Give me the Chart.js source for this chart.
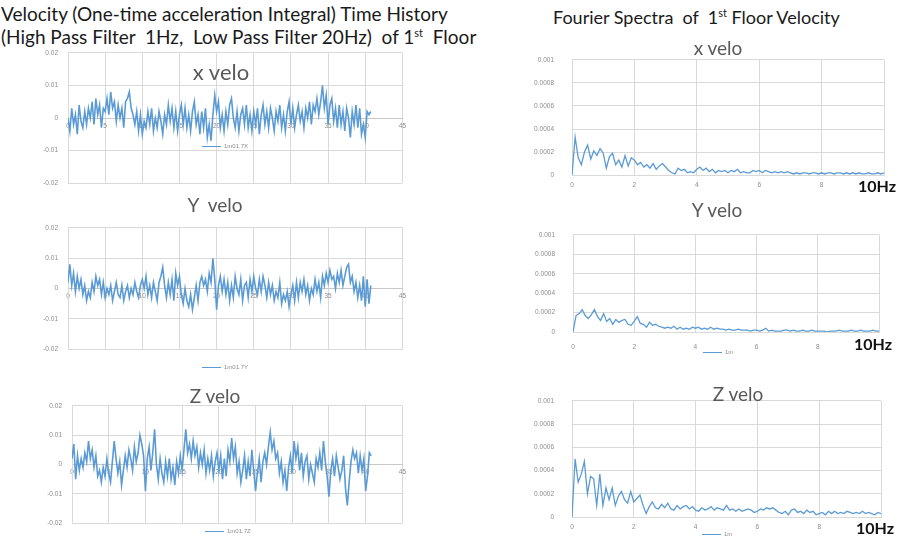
<!DOCTYPE html>
<html>
<head>
<meta charset="utf-8">
<script src="https://cdn.jsdelivr.net/npm/chart.js@4.4.1/dist/chart.umd.min.js"></script>
<style>
  body { margin: 0; background: #fff; }
  #page { position: relative; width: 900px; height: 544px; overflow: hidden; font-family: Lato, "Open Sans", sans-serif; }
  canvas { position: absolute; }
  .txt { position: absolute; white-space: nowrap; line-height: 1; }
  .head { color: #1a1a1a; font-size: 19px; }
  .head sup { font-size: 11px; vertical-align: 7px; }
  .headR { font-size: 18px; }
  .ttl { color: #595959; font-size: 19px; transform: translateX(-50%); }
  .hz { color: #111; font-size: 16px; font-weight: bold; }
  .leg { position: absolute; font-size: 6px; color: #8c8c8c; white-space: nowrap; font-family: "Liberation Sans", sans-serif; }
  .leg i { display: inline-block; width: 19px; height: 0; border-top: 1.5px solid #5b9bd5; vertical-align: middle; margin-right: 3px; }
</style>
</head>
<body>
<div id="page">
  <div class="txt head" style="left:1px;top:4px;">Velocity (One-time acceleration Integral) Time History</div>
  <div class="txt head" style="left:1px;top:27px;">(High Pass Filter&nbsp; 1Hz,&nbsp; Low Pass Filter 20Hz)&nbsp; of 1<sup>st</sup>&nbsp; Floor</div>
  <div class="txt head headR" style="left:553px;top:7px;">Fourier Spectra&nbsp; of&nbsp; 1<sup>st</sup> Floor Velocity</div>

  <canvas id="cX" width="390" height="158" style="left:20px;top:39px;"></canvas>
  <canvas id="cY" width="390" height="149" style="left:20px;top:214px;"></canvas>
  <canvas id="cZ" width="390" height="145" style="left:20px;top:392px;"></canvas>
  <canvas id="sX" width="370" height="159" style="left:520px;top:38px;"></canvas>
  <canvas id="sY" width="370" height="141" style="left:520px;top:213px;"></canvas>
  <canvas id="sZ" width="370" height="160" style="left:520px;top:379px;"></canvas>

  <div class="txt ttl" style="left:221px;top:61px;font-size:22px;">x velo</div>
  <div class="txt ttl" style="left:215px;top:195px;">Y&nbsp; velo</div>
  <div class="txt ttl" style="left:215px;top:386px;">Z velo</div>
  <div class="txt ttl" style="left:718px;top:38px;">x velo</div>
  <div class="txt ttl" style="left:717px;top:200px;">Y velo</div>
  <div class="txt ttl" style="left:738px;top:384px;">Z velo</div>

  <div class="txt hz" style="left:858px;top:178px;">10Hz</div>
  <div class="txt hz" style="left:854px;top:336px;">10Hz</div>
  <div class="txt hz" style="left:856px;top:520px;">10Hz</div>

  <div class="leg" style="left:202px;top:143px;"><i></i>1m01.7X</div>
  <div class="leg" style="left:202px;top:364px;"><i></i>1m01.7Y</div>
  <div class="leg" style="left:205px;top:528px;"><i></i>1m01.7Z</div>
  <div class="leg" style="left:703px;top:349px;"><i></i>1m</div>
  <div class="leg" style="left:702px;top:531px;"><i></i>1m</div>
</div>
<script>
// time histories, sampled every 0.25 s (m/s)
const timeStep = 0.25;
const veloX = [
  0.000, -0.004, 0.003, -0.002, 0.001, -0.005, 0.004, -0.001, -0.003, 0.002, -0.002, 0.003,
  0.000, 0.005, -0.002, 0.006, 0.001, 0.004, -0.003, 0.003, 0.002, 0.006, 0.001, 0.008,
  0.003, 0.005, -0.001, 0.004, 0.000, 0.003, -0.003, 0.005, 0.006, 0.008, 0.003, 0.001,
  -0.002, 0.002, -0.004, 0.001, -0.005, -0.001, -0.003, 0.002, -0.002, 0.003, -0.004, 0.000,
  -0.003, 0.002, -0.001, -0.005, 0.001, -0.002, 0.004, -0.001, 0.003, -0.003, 0.002, -0.004,
  0.001, 0.004, -0.002, 0.003, -0.003, 0.001, -0.004, 0.002, 0.005, -0.002, 0.001, -0.005,
  0.002, -0.003, 0.003, -0.006, -0.002, -0.007, 0.001, 0.007, 0.002, 0.005, -0.003, 0.001,
  -0.004, 0.002, -0.002, 0.004, 0.006, 0.000, -0.003, 0.002, -0.004, 0.001, 0.003, -0.002,
  0.004, -0.003, 0.001, -0.004, 0.002, -0.002, 0.003, -0.005, 0.001, 0.004, -0.002, 0.002,
  -0.003, 0.003, 0.000, -0.004, 0.002, -0.001, 0.004, -0.003, 0.001, -0.004, 0.002, 0.005,
  -0.002, 0.003, -0.003, 0.001, 0.004, -0.001, 0.002, -0.003, 0.003, 0.000, 0.005, -0.002,
  0.004, 0.002, 0.006, 0.001, 0.005, 0.010, 0.003, 0.007, -0.002, 0.004, 0.006, -0.001,
  0.003, -0.003, 0.004, -0.002, 0.002, -0.004, 0.003, 0.000, -0.006, 0.002, -0.002, 0.004,
  -0.003, 0.003, -0.005, -0.002, -0.006, 0.002, 0.001, 0.002
];
const veloY = [
  0.002, 0.008, 0.001, 0.005, -0.001, 0.004, 0.000, 0.003, -0.002, 0.001, -0.004, -0.001,
  -0.003, 0.002, -0.001, 0.004, 0.001, 0.003, -0.002, 0.002, -0.003, 0.000, -0.002, 0.001,
  -0.004, -0.001, 0.002, -0.002, -0.003, 0.001, -0.004, -0.001, 0.001, -0.003, 0.000, -0.002,
  0.002, -0.001, -0.003, 0.001, 0.003, 0.000, 0.004, -0.002, 0.001, -0.003, 0.002, -0.001,
  -0.004, 0.002, 0.004, 0.007, 0.001, -0.003, 0.002, -0.002, 0.003, -0.004, 0.005, 0.001,
  0.004, -0.002, -0.005, 0.000, -0.004, -0.006, -0.002, -0.007, -0.003, 0.001, -0.004, 0.002,
  0.004, 0.001, 0.003, -0.001, 0.005, 0.002, 0.010, 0.003, -0.007, 0.001, 0.004, -0.001,
  0.003, -0.002, 0.002, -0.004, 0.001, -0.003, 0.004, 0.000, -0.002, 0.003, -0.004, 0.001,
  0.002, -0.003, 0.003, -0.001, 0.004, 0.000, -0.002, 0.003, -0.001, 0.004, 0.001, -0.003,
  0.002, -0.002, 0.001, -0.004, -0.001, -0.003, 0.002, -0.005, -0.002, -0.004, -0.001, -0.006,
  -0.002, 0.001, -0.004, 0.002, -0.003, 0.002, -0.001, 0.003, -0.002, 0.001, -0.004, 0.000,
  -0.002, 0.003, -0.001, 0.002, -0.003, 0.004, 0.001, 0.005, 0.002, 0.006, 0.003, 0.004,
  0.000, 0.005, 0.002, 0.006, 0.001, 0.004, 0.007, 0.008, 0.002, 0.004, -0.001, 0.002,
  -0.003, 0.001, -0.004, 0.004, -0.006, 0.003, -0.005, 0.001
];
const veloZ = [
  0.002, 0.007, -0.005, 0.003, -0.002, 0.002, -0.001, 0.004, 0.001, 0.008, 0.002, 0.005,
  -0.001, 0.003, -0.004, -0.002, -0.006, -0.001, -0.004, 0.002, -0.003, -0.006, 0.001, 0.008,
  0.002, -0.003, 0.001, -0.007, -0.002, 0.003, -0.001, 0.005, 0.002, -0.002, 0.006, 0.001,
  0.004, 0.010, 0.007, 0.003, -0.009, 0.002, 0.006, -0.002, 0.004, 0.012, 0.000, -0.005,
  0.002, -0.003, -0.006, 0.001, -0.004, 0.002, -0.005, -0.001, -0.007, 0.001, -0.003, 0.003,
  -0.002, 0.005, 0.012, 0.004, 0.007, 0.002, 0.008, 0.003, 0.006, -0.001, 0.004, 0.000,
  0.005, -0.003, 0.002, -0.002, 0.003, -0.004, 0.001, 0.004, -0.002, 0.003, -0.005, 0.002,
  -0.004, 0.005, 0.001, 0.009, 0.002, 0.006, -0.003, 0.001, -0.006, -0.002, 0.003, -0.005,
  0.001, -0.004, 0.005, -0.002, -0.009, -0.003, 0.002, -0.006, 0.001, 0.004, 0.000, 0.006,
  0.011, 0.005, 0.008, 0.002, 0.004, -0.003, 0.001, -0.006, -0.002, -0.009, -0.001, 0.003,
  -0.003, 0.008, 0.002, 0.006, -0.002, 0.004, -0.004, 0.001, 0.003, -0.005, 0.000, -0.003,
  -0.006, 0.002, -0.001, 0.004, -0.002, 0.008, 0.001, -0.004, -0.011, -0.002, 0.002, -0.004,
  0.003, -0.001, -0.005, -0.002, 0.003, -0.008, -0.014, -0.006, 0.001, 0.005, 0.002, 0.004,
  -0.003, 0.003, -0.002, 0.002, -0.009, -0.004, 0.004, 0.003
];

// Fourier spectra, every 0.1 Hz from 0 to 10 Hz
const freqStep = 0.1;
const specX = [
  0, 0.00033, 0.00015, 0.00009, 0.00020, 0.00026, 0.00014, 0.00021, 0.00017, 0.00023,
  0.00019, 0.00006, 0.00016, 0.00019, 0.00009, 0.00013, 0.00007, 0.00017, 0.00008, 0.00015,
  0.00013, 0.00009, 0.00011, 0.00007, 0.00009, 0.00006, 0.00010, 0.00005, 0.00008, 0.00010,
  0.00007, 0.00004, 0.00002, 0.00001, 0.00006, 0.00004, 0.00005, 0.00002, 0.00003, 0.00002,
  0.00005, 0.00007, 0.00004, 0.00006, 0.00003, 0.00005, 0.00002, 0.00004, 0.00003, 0.00004,
  0.00002, 0.00004, 0.00003, 0.00005, 0.00002, 0.00003, 0.00002, 0.00002, 0.00004, 0.00003,
  0.00004, 0.00002, 0.00004, 0.00003, 0.00002, 0.00003, 0.00002, 0.00003, 0.00002, 0.00003,
  0.00002, 0.00001, 0.00002, 0.00001, 0.00002, 0.00002, 0.00001, 0.00002, 0.00002, 0.00001,
  0.00002, 0.00001, 0.00002, 0.00002, 0.00001, 0.00002, 0.00002, 0.00001, 0.00002, 0.00001,
  0.00002, 0.00001, 0.00002, 0.00001, 0.00001, 0.00002, 0.00001, 0.00001, 0.00002, 0.00001,
  0.00002
];
const specY = [
  0, 0.00017, 0.00019, 0.00023, 0.00017, 0.00014, 0.00018, 0.00023, 0.00016, 0.00012,
  0.00019, 0.00011, 0.00014, 0.00008, 0.00013, 0.00010, 0.00012, 0.00013, 0.00008, 0.00007,
  0.00011, 0.00016, 0.00009, 0.00008, 0.00005, 0.00010, 0.00007, 0.00008, 0.00006, 0.00005,
  0.00004, 0.00005, 0.00004, 0.00006, 0.00003, 0.00005, 0.00003, 0.00004, 0.00003, 0.00005,
  0.00004, 0.00005, 0.00003, 0.00004, 0.00003, 0.00005, 0.00003, 0.00004, 0.00003, 0.00003,
  0.00002, 0.00003, 0.00002, 0.00002, 0.00003, 0.00002, 0.00002, 0.00002, 0.00001, 0.00002,
  0.00002, 0.00001, 0.00002, 0.00004, 0.00001, 0.00002, 0.00001, 0.00001, 0.00001, 0.00002,
  0.00002, 0.00001, 0.00002, 0.00001, 0.00001, 0.00002, 0.00001, 0.00001, 0.00002, 0.00001,
  0.00001, 0.00001, 0.00001, 0.00000, 0.00001, 0.00001, 0.00001, 0.00002, 0.00001, 0.00001,
  0.00001, 0.00002, 0.00001, 0.00001, 0.00002, 0.00001, 0.00001, 0.00001, 0.00002, 0.00001,
  0.00001
];
const specZ = [
  0, 0.00050, 0.00030, 0.00037, 0.00048, 0.00020, 0.00035, 0.00033, 0.00010, 0.00037,
  0.00010, 0.00025, 0.00015, 0.00025, 0.00010, 0.00018, 0.00022, 0.00015, 0.00012, 0.00022,
  0.00013, 0.00016, 0.00019, 0.00010, 0.00003, 0.00009, 0.00013, 0.00008, 0.00007, 0.00011,
  0.00008, 0.00012, 0.00007, 0.00006, 0.00010, 0.00007, 0.00009, 0.00010, 0.00007, 0.00009,
  0.00006, 0.00005, 0.00008, 0.00006, 0.00007, 0.00009, 0.00006, 0.00008, 0.00007, 0.00006,
  0.00010, 0.00006, 0.00007, 0.00005, 0.00007, 0.00005, 0.00006, 0.00007, 0.00006, 0.00004,
  0.00005, 0.00007, 0.00006, 0.00008, 0.00007, 0.00008, 0.00006, 0.00004, 0.00003, 0.00005,
  0.00002, 0.00006, 0.00007, 0.00004, 0.00005, 0.00003, 0.00006, 0.00004, 0.00005, 0.00002,
  0.00003, 0.00004, 0.00002, 0.00005, 0.00003, 0.00005, 0.00003, 0.00004, 0.00003, 0.00005,
  0.00004, 0.00003, 0.00004, 0.00003, 0.00005, 0.00003, 0.00004, 0.00003, 0.00002, 0.00004,
  0.00003
];

const LINE = '#5b9bd5';
const GRID = '#d9d9d9';
const TICK = '#8c8c8c';
const tickFont = { family: 'Liberation Sans', size: 6.5 };

function toPoints(values, step) {
    return values.map((v, i) => ({ x: +(i * step).toFixed(2), y: v }));
}

function baseOptions(pad) {
    return {
        responsive: false,
        animation: false,
        layout: { padding: pad },
        plugins: { legend: { display: false }, tooltip: { enabled: false } },
        elements: { point: { radius: 0 }, line: { tension: 0 } }
    };
}

function timeChart(id, values, yWidth, pad) {
    const opts = baseOptions(pad);
    opts.scales = {
        x: {
            type: 'linear', min: 0, max: 45, position: { y: 0 },
            afterFit: s => { s.height = 0; },
            grid: { color: GRID, drawTicks: false },
            border: { color: '#c8c8c8' },
            ticks: { stepSize: 5, autoSkip: false, maxRotation: 0, padding: 4, color: TICK, font: tickFont }
        },
        y: {
            min: -0.02, max: 0.02,
            afterFit: s => { s.width = yWidth; },
            grid: { color: GRID, drawTicks: false },
            border: { color: GRID },
            ticks: { stepSize: 0.01, padding: 10, color: TICK, font: tickFont,
                     callback: v => String(+v.toFixed(2)) }
        }
    };
    new Chart(document.getElementById(id), {
        type: 'line',
        data: { datasets: [{ data: toPoints(values, timeStep), borderColor: LINE, borderWidth: 1.6 }] },
        options: opts
    });
}

function specChart(id, values, xHeight, labelPad, pad) {
    const opts = baseOptions(pad);
    opts.scales = {
        x: {
            type: 'linear', min: 0, max: 10,
            afterFit: s => { s.height = xHeight; },
            grid: { color: GRID, drawTicks: false },
            border: { color: GRID },
            ticks: { stepSize: 2, autoSkip: false, maxRotation: 0, padding: labelPad, color: TICK, font: tickFont,
                     callback: v => (v === 10 ? '' : v) }
        },
        y: {
            min: 0, max: 0.001,
            afterFit: s => { s.width = 52; },
            grid: { color: GRID, drawTicks: false },
            border: { color: GRID },
            ticks: { stepSize: 0.0002, padding: 18, color: TICK, font: tickFont,
                     callback: v => String(+v.toFixed(4)) }
        }
    };
    new Chart(document.getElementById(id), {
        type: 'line',
        data: { datasets: [{ data: toPoints(values, freqStep), borderColor: LINE, borderWidth: 1.3 }] },
        options: opts
    });
}

timeChart('cX', veloX, 48, { top: 5, right: 5, bottom: 6, left: 0 });
timeChart('cY', veloY, 48, { top: 5, right: 5, bottom: 6, left: 0 });
timeChart('cZ', veloZ, 52, { top: 5, right: 5, bottom: 6, left: 0 });
specChart('sX', specX, 18, 6, { top: 5, right: 5, bottom: 0, left: 0 });
specChart('sY', specY, 20, 11, { top: 5, right: 4, bottom: 0, left: 1 });
specChart('sZ', specZ, 18, 6, { top: 5, right: 9, bottom: 0, left: 0 });
</script>
</body>
</html>
